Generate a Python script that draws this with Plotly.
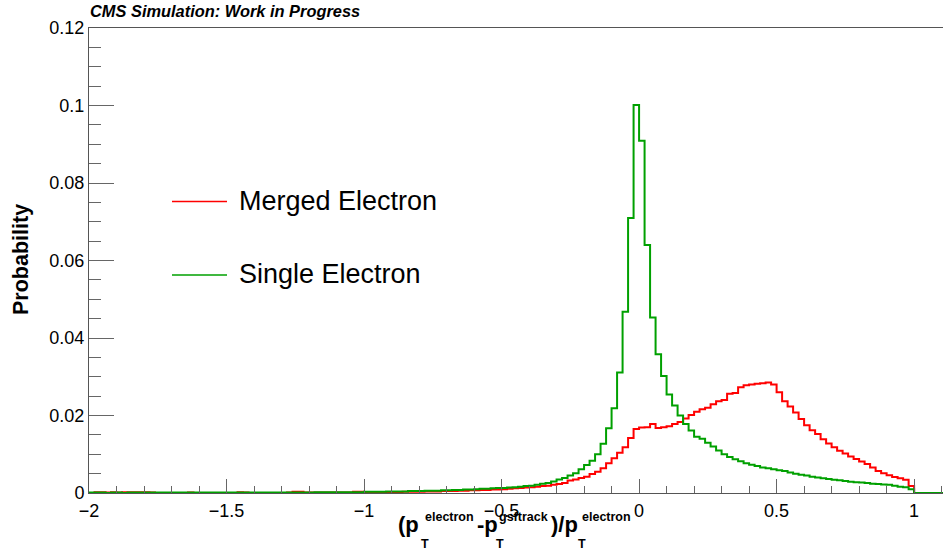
import plotly.graph_objects as go

# ---------------- data ----------------
bin_low = -2.0
bin_width = 0.02

# Probability per bin (bins of 0.02 starting at -2.0)
merged_electron = [
    # -2.00 .. -1.02
    0.0000, 0.0002, 0.0002, 0.0001, 0.0002, 0.0001, 0.0002, 0.0002, 0.0002, 0.0002,
    0.0002, 0.0001, 0.0000, 0.0000, 0.0000, 0.0000, 0.0000, 0.0000, 0.0001, 0.0000,
    0.0000, 0.0000, 0.0000, 0.0000, 0.0000, 0.0000, 0.0000, 0.0002, 0.0001, 0.0000,
    0.0000, 0.0000, 0.0000, 0.0000, 0.0000, 0.0000, 0.0001, 0.0003, 0.0003, 0.0001,
    0.0001, 0.0001, 0.0001, 0.0001, 0.0001, 0.0001, 0.0001, 0.0001, 0.0003, 0.0003,
    # -1.00 .. -0.32
    0.0001, 0.0002, 0.0001, 0.0002, 0.0002, 0.0002, 0.0002, 0.0003, 0.0003, 0.0003,
    0.0003, 0.0004, 0.0004, 0.0004, 0.0005, 0.0005, 0.0005, 0.0006, 0.0006, 0.0007,
    0.0007, 0.0008, 0.0008, 0.0009, 0.0009, 0.0010, 0.0011, 0.0012, 0.0013, 0.0014,
    0.0015, 0.0016, 0.0018, 0.0019, 0.0021,
    # -0.30 .. -0.02
    0.0023, 0.0026, 0.0032, 0.0035, 0.0039, 0.0042, 0.0049, 0.0055, 0.0064, 0.0077,
    0.0090, 0.0104, 0.0118, 0.0142, 0.0165,
    # 0.00 .. 0.20
    0.0169, 0.0170, 0.0178, 0.0168, 0.0170, 0.0172, 0.0178, 0.0183, 0.0192, 0.0201,
    0.0210,
    # 0.22 .. 0.98
    0.0216, 0.0220, 0.0229, 0.0237, 0.0240, 0.0256, 0.0258, 0.0273, 0.0278, 0.0280,
    0.0282, 0.0283, 0.0285, 0.0280, 0.0260, 0.0237, 0.0223, 0.0208, 0.0191, 0.0175,
    0.0162, 0.0152, 0.0139, 0.0128, 0.0118, 0.0109, 0.0102, 0.0094, 0.0088, 0.0081,
    0.0075, 0.0066, 0.0057, 0.0051, 0.0046, 0.0041, 0.0038, 0.0034, 0.0018,
    # 1.00 .. 1.10
    0.0, 0.0, 0.0, 0.0, 0.0, 0.0,
]

single_electron = [
    # -2.00 .. -1.02
    0.0001, 0.0001, 0.0001, 0.0000, 0.0001, 0.0001, 0.0000, 0.0001, 0.0001, 0.0001,
    0.0001, 0.0001, 0.0001, 0.0001, 0.0001, 0.0001, 0.0001, 0.0001, 0.0001, 0.0001,
    0.0001, 0.0001, 0.0001, 0.0001, 0.0001, 0.0001, 0.0001, 0.0001, 0.0001, 0.0001,
    0.0001, 0.0001, 0.0001, 0.0001, 0.0001, 0.0001, 0.0001, 0.0001, 0.0001, 0.0001,
    0.0001, 0.0002, 0.0002, 0.0002, 0.0002, 0.0002, 0.0002, 0.0002, 0.0002, 0.0002,
    # -1.00 .. -0.32
    0.0003, 0.0003, 0.0003, 0.0003, 0.0004, 0.0004, 0.0004, 0.0004, 0.0005, 0.0005,
    0.0005, 0.0006, 0.0006, 0.0006, 0.0007, 0.0007, 0.0008, 0.0008, 0.0009, 0.0009,
    0.0010, 0.0011, 0.0011, 0.0012, 0.0013, 0.0013, 0.0014, 0.0015, 0.0016, 0.0018,
    0.0019, 0.0021, 0.0024, 0.0026, 0.0030,
    # -0.30 .. -0.02
    0.0035, 0.0039, 0.0045, 0.0051, 0.0061, 0.0072, 0.0083, 0.0100, 0.0127, 0.0167,
    0.0219, 0.0311, 0.0468, 0.0710, 0.1001,
    # 0.00 .. 0.20
    0.0909, 0.0640, 0.0453, 0.0358, 0.0302, 0.0254, 0.0226, 0.0200, 0.0178, 0.0161,
    0.0145,
    # 0.22 .. 0.98
    0.0140, 0.0130, 0.0120, 0.0110, 0.0100, 0.0093, 0.0087, 0.0082, 0.0077, 0.0073,
    0.0070, 0.0066, 0.0064, 0.0061, 0.0059, 0.0057, 0.0053, 0.0050, 0.0047, 0.0045,
    0.0042, 0.0040, 0.0038, 0.0036, 0.0034, 0.0033, 0.0031, 0.0029, 0.0028, 0.0027,
    0.0026, 0.0024, 0.0023, 0.0022, 0.0021, 0.0019, 0.0016, 0.0015, 0.0010,
    # 1.00 .. 1.10
    0.0, 0.0, 0.0, 0.0, 0.0, 0.0,
]

series_names = ["Merged Electron", "Single Electron"]
series_colors = ["#ff0000", "#00a000"]

x_tick_vals = [-2, -1.5, -1, -0.5, 0, 0.5, 1]
x_tick_text = ["\u22122", "\u22121.5", "\u22121", "\u22120.5", "0", "0.5", "1"]
y_tick_vals = [0, 0.02, 0.04, 0.06, 0.08, 0.1, 0.12]
y_tick_text = ["0", "0.02", "0.04", "0.06", "0.08", "0.1", "0.12"]

# ---------------- figure ----------------
W, H = 943, 555
L, R, T, B = 89, 0, 28, 62
PW, PH = W - L - R, H - T - B


def px_x(p):
    return (p - L) / PW


def px_y(p):
    return (H - B - p) / PH


def step_xy(vals):
    n = len(vals)
    xs = [round(bin_low + bin_width * i, 4) for i in range(n + 1)]
    ys = list(vals) + [vals[-1]]
    return xs, ys


fig = go.Figure()
for name, vals, col in zip(series_names, [merged_electron, single_electron], series_colors):
    xs, ys = step_xy(vals)
    fig.add_trace(go.Scatter(x=xs, y=ys, mode="lines", line_shape="hv",
                             line=dict(color=col, width=2), name=name,
                             showlegend=False, hoverinfo="skip"))

axis_col = "#555555"
fig.update_layout(
    width=W, height=H,
    margin=dict(l=L, r=R, t=T, b=B, pad=0),
    paper_bgcolor="white", plot_bgcolor="white",
    font=dict(family="Liberation Sans, Arial, sans-serif", color="black"),
    xaxis=dict(range=[-2, 1.105], showgrid=False, zeroline=False,
               showline=True, linecolor=axis_col, linewidth=1, mirror=True,
               tickmode="array", tickvals=x_tick_vals, ticktext=x_tick_text,
               ticks="inside", ticklen=14, tickcolor="#666666", tickwidth=1,
               ticklabelstandoff=1,
               minor=dict(dtick=0.1, tick0=0, ticks="inside", ticklen=7,
                          tickcolor="#666666", tickwidth=1, showgrid=False),
               tickfont=dict(size=18, color="black")),
    yaxis=dict(range=[0, 0.12], showgrid=False, zeroline=False,
               showline=True, linecolor=axis_col, linewidth=1, mirror=False,
               tickmode="array", tickvals=y_tick_vals, ticktext=y_tick_text,
               ticks="inside", ticklen=25, tickcolor="#666666", tickwidth=1,
               minor=dict(dtick=0.005, tick0=0, ticks="inside", ticklen=12,
                          tickcolor="#666666", tickwidth=1, showgrid=False),
               tickfont=dict(size=18, color="black")),
)

ann = []
# header
ann.append(dict(text="<b><i>CMS Simulation: Work in Progress</i></b>",
                x=px_x(89), y=px_y(10.5), xref="paper", yref="paper",
                xanchor="left", yanchor="middle", showarrow=False, borderpad=0,
                font=dict(size=16.4, color="black")))
# y title
ann.append(dict(text="<b>Probability</b>", textangle=-90,
                x=px_x(21), y=px_y(260), xref="paper", yref="paper",
                xanchor="center", yanchor="middle", showarrow=False,
                font=dict(size=21.5, color="black")))
# x title pieces: (text, left px, center y px, size)
x_title_parts = [
    ("(p", 397, 524, 22),
    ("T", 420, 544, 12.5),
    ("electron", 424, 517, 12.5),
    ("-p", 476, 524, 22),
    ("T", 495, 544, 12.5),
    ("gsftrack", 498, 517, 12.5),
    (")/p", 550, 524, 22),
    ("T", 577, 544, 12.5),
    ("electron", 581, 517, 12.5),
]
for txt, xl, yc, sz in x_title_parts:
    ann.append(dict(text="<b>" + txt + "</b>", x=px_x(xl), y=px_y(yc),
                    xref="paper", yref="paper", xanchor="left", yanchor="middle",
                    showarrow=False, borderpad=0, font=dict(size=sz, color="black")))

# legend
legend_rows = [201.5, 275]
shapes = []
for name, col, yc in zip(series_names, series_colors, legend_rows):
    shapes.append(dict(type="line", xref="paper", yref="paper",
                       x0=px_x(172), x1=px_x(227), y0=px_y(yc), y1=px_y(yc),
                       line=dict(color=col, width=1.5)))
    ann.append(dict(text=name, x=px_x(238), y=px_y(yc - 1), xref="paper", yref="paper",
                    xanchor="left", yanchor="middle", showarrow=False, borderpad=0,
                    font=dict(size=27, color="black")))

fig.update_layout(annotations=ann, shapes=shapes)
fig.write_html("out.html")
